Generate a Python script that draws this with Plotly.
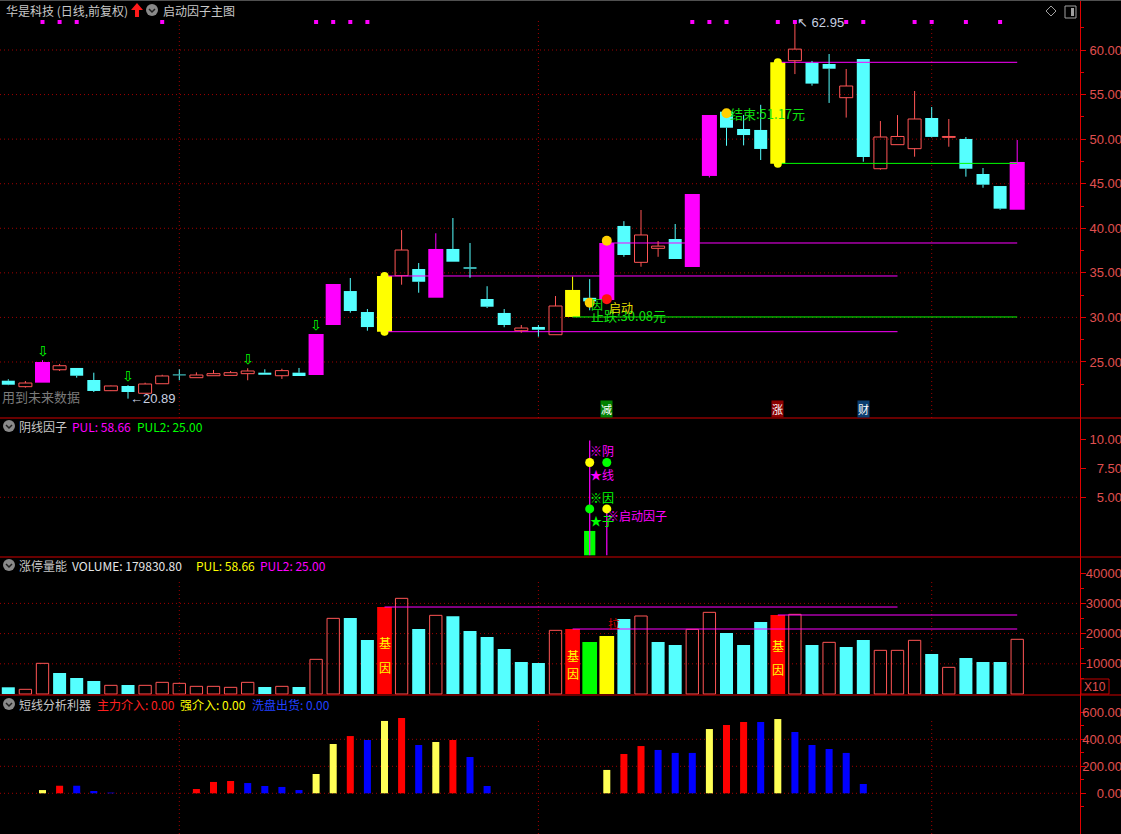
import plotly.graph_objects as go

# ---------------- data ----------------
opens  = [22.90,22.23,22.68,24.13,24.33,22.98,21.78,22.31,21.49,22.56,
          23.60,23.24,23.46,23.50,23.69,23.80,23.46,23.80,23.54,29.15,
          32.96,30.61,28.40,34.68,35.43,32.21,37.68,35.62,32.07,30.50,
          28.51,28.93,28.06,30.05,32.20,31.95,40.26,36.18,37.75,38.80,
          35.66,45.87,53.08,51.14,51.03,47.25,58.80,58.58,58.43,54.65,
          58.99,46.68,49.38,48.93,52.37,50.20,50.02,46.09,44.74,42.08]
highs  = [23.06,22.87,25.20,24.78,24.33,23.80,22.36,22.40,22.68,23.57,
          24.18,23.84,24.10,23.99,24.30,24.18,24.24,24.33,28.14,33.75,
          34.42,30.94,35.00,39.80,36.10,39.44,41.15,38.35,33.50,30.94,
          29.15,29.15,32.40,34.57,34.30,38.60,40.80,42.05,38.57,40.48,
          43.85,52.71,53.08,52.70,53.85,58.90,62.95,58.77,59.55,57.87,
          58.99,52.03,52.70,55.40,53.60,52.26,50.24,46.76,44.74,49.90]
lows   = [22.40,22.12,22.68,23.99,23.24,21.63,21.74,20.89,21.49,22.56,
          22.95,23.24,23.46,23.50,22.95,23.57,23.10,23.43,23.54,29.15,
          30.53,28.51,28.00,33.67,32.77,32.21,36.25,34.45,31.05,28.90,
          28.28,27.84,28.06,30.05,30.80,31.95,36.80,35.69,36.80,36.55,
          35.66,45.70,49.26,49.30,47.66,47.00,57.30,56.00,54.06,52.42,
          47.47,46.57,49.38,48.03,50.20,49.15,45.79,44.55,42.08,42.08]
closes = [22.45,22.64,25.00,24.58,23.46,21.75,22.31,21.63,22.53,23.43,
          23.50,23.54,23.69,23.80,23.99,23.57,24.03,23.43,28.14,33.75,
          30.72,28.92,34.65,37.56,34.00,37.68,36.25,35.47,31.20,29.15,
          28.81,28.62,31.28,33.08,31.80,38.35,37.00,39.25,38.00,36.55,
          43.85,52.71,51.28,50.46,48.90,58.62,60.10,56.23,57.90,55.96,
          48.00,50.24,50.30,52.26,50.25,50.30,46.68,44.89,42.20,47.44]
limit_idx = [2, 18, 19, 25, 35, 40, 41, 59]      # magenta candles
gene_idx = [22, 33, 45]                           # yellow "基因" candles
cap_idx = [22, 45]                                # yellow candles with rounded caps
arrow_idx = [2, 7, 14, 18]                        # green hollow arrows
signal_idx = [2, 3, 4, 9, 18, 19, 20, 21, 40, 41, 42, 45, 46, 49, 50, 53, 54, 56, 58]
month_idx = [10, 31, 54]

volume = [2220, 1550, 10160, 6950, 5300, 4300, 2870, 2980, 2870, 3860,
          3530, 2540, 2540, 2210, 3860, 2320, 2540, 2320, 11480, 25050,
          25170, 17880, 28800, 31680, 21520, 26050, 25720, 20860, 18870, 14900,
          10600, 10260, 21080, 21520, 17220, 19200, 24830, 25830, 17220, 16230,
          21410, 27040, 20200, 16230, 23840, 26160, 26380, 16230, 17110, 15560,
          17880, 14460, 14460, 17770, 13250, 8830, 11920, 10600, 10600, 18110]
vol_green_idx = [34]
vol_yellow_idx = [35]

# price level lines (start index, end index, level)
lvl_start = [22, 22, 33, 35, 45, 45]
lvl_end   = [52, 52, 59, 59, 59, 59]
lvl_value = [34.65, 28.40, 30.05, 38.35, 58.62, 47.28]
# volume level lines
vlvl_start = [22, 45, 33]
vlvl_end   = [52, 59, 59]
vlvl_value = [28800, 26160, 21520]

# 阴线因子 panel
yin_idx = [34, 35]
yin_val = [9.9, 4.05]
yin_bar_idx = [34]
yin_bar_val = [2.1]

# 短线分析利器 panel
zl_idx = [3, 11, 12, 13, 20, 23, 26, 36, 37, 42, 43]
zl_val = [56, 32, 84, 91, 424, 558, 395, 291, 350, 506, 528]
qj_idx = [2, 18, 19, 22, 25, 35, 41, 45]
qj_val = [24, 143, 365, 536, 380, 173, 476, 550]
xp_idx = [4, 5, 6, 14, 15, 16, 17, 21, 24, 27, 28, 38, 39, 40, 44, 46, 47, 48, 49, 50]
xp_val = [56, 17, 5, 76, 54, 47, 24, 395, 358, 269, 54, 321, 299, 299, 528, 454, 358, 328, 299, 69]

price_ticks = [25, 30, 35, 40, 45, 50, 55, 60]
price_minor = [22.5, 27.5, 32.5, 37.5, 42.5, 47.5, 52.5, 57.5, 62.5]
p2_ticks = [5, 7.5, 10]
vol_ticks = [10000, 20000, 30000, 40000]
vol_minor = [5000, 15000, 25000, 35000]
bot_ticks = [0, 200, 400, 600]
bot_minor = [-100, 100, 300, 500]

# ---------------- style / geometry ----------------
W, H = 1121, 834
UP = '#ff5555'; DN = '#55ffff'; MAG = '#ff00ff'; YEL = '#ffff00'; GRN = '#00ff00'
AX = '#e00000'; LBL = '#e05050'; GRID = '#a00000'; TXT = '#c8c8c8'
CJK = 'Noto Sans CJK SC'
X0, DX, AXIS_X = 8.3, 17.1, 1080.0
xrange_ = [(0 - X0) / DX, (AXIS_X - X0) / DX]

def pp(px, py):
    return px / W, 1 - py / H

main_rng = [60 - (418 - 50) / 8.914, 60 - (0 - 50) / 8.914]
p2_rng = [(555.3 - 557) / 11.6, (555.3 - 418) / 11.6]
vol_rng = [(694 - 695) / 0.00302, (694 - 557) / 0.00302]
bot_rng = [(793.3 - 834) / 0.135, (793.3 - 695) / 0.135]
dom_main = [1 - 418 / H, 1]
dom_p2 = [1 - 557 / H, 1 - 418 / H]
dom_vol = [1 - 695 / H, 1 - 557 / H]
dom_bot = [0, 1 - 695 / H]

n = len(closes)
fig = go.Figure()

# ---- candle classification ----
def ctype(i):
    if i in limit_idx:
        return 'mag'
    if i in gene_idx:
        return 'yel'
    return 'up' if closes[i] >= opens[i] else 'dn'

col = {'mag': MAG, 'yel': YEL, 'up': UP, 'dn': DN}

# level lines (main)
lvl_colors = [MAG, MAG, GRN, MAG, MAG, GRN]
for s, e, v, c in zip(lvl_start, lvl_end, lvl_value, lvl_colors):
    fig.add_trace(go.Scatter(x=[s, e], y=[v, v], mode='lines', line=dict(color=c, width=1),
                             xaxis='x', yaxis='y', hoverinfo='skip'))

# wicks
for t in ['up', 'dn', 'mag', 'yel']:
    xs, ys = [], []
    for i in range(n):
        if ctype(i) != t:
            continue
        top, bot = max(opens[i], closes[i]), min(opens[i], closes[i])
        if highs[i] > top:
            xs += [i, i, None]; ys += [top, highs[i], None]
        if lows[i] < bot:
            xs += [i, i, None]; ys += [lows[i], bot, None]
    fig.add_trace(go.Scatter(x=xs, y=ys, mode='lines', line=dict(color=col[t], width=1),
                             yaxis='y', hoverinfo='skip'))

# rounded caps of the yellow candles
cap_x, cap_y = [], []
for i in cap_idx:
    cap_x += [i, i]
    cap_y += [max(opens[i], closes[i]), min(opens[i], closes[i])]
fig.add_trace(go.Scatter(x=cap_x, y=cap_y, mode='markers', marker=dict(size=8, color=YEL),
                         yaxis='y', hoverinfo='skip'))

# bodies
for t in ['up', 'dn', 'mag', 'yel']:
    idx = [i for i in range(n) if ctype(i) == t]
    base = [min(opens[i], closes[i]) for i in idx]
    hgt = [max(abs(closes[i] - opens[i]), 0.09) for i in idx]
    w = 0.76 if t in ('up', 'dn') else 0.88
    if t == 'up':
        mk = dict(color='rgba(0,0,0,0)', line=dict(color=UP, width=1))
    else:
        mk = dict(color=col[t], line=dict(width=0))
    fig.add_trace(go.Bar(x=idx, y=hgt, base=base, width=w, marker=mk, yaxis='y', hoverinfo='skip'))

# top signal squares
fig.add_trace(go.Scatter(x=signal_idx, y=[63.14] * len(signal_idx), mode='markers',
                         marker=dict(symbol='square', size=4, color=MAG), yaxis='y', hoverinfo='skip'))

# dots on main
fig.add_trace(go.Scatter(x=[42, 34, 35], y=[52.9, 31.65, 38.6], mode='markers',
                         marker=dict(size=10, color='#ffd000'), yaxis='y', hoverinfo='skip'))
fig.add_trace(go.Scatter(x=[35], y=[32.05], mode='markers',
                         marker=dict(size=10, color='#ff1010'), yaxis='y', hoverinfo='skip'))

# ---- 阴线因子 panel ----
fig.add_trace(go.Bar(x=yin_bar_idx, y=yin_bar_val, width=0.66, marker=dict(color=GRN, line=dict(width=0)),
                     yaxis='y2', hoverinfo='skip'))
xs, ys = [], []
for i, v in zip(yin_idx, yin_val):
    xs += [i, i, None]; ys += [0, v, None]
fig.add_trace(go.Scatter(x=xs, y=ys, mode='lines', line=dict(color=MAG, width=1.2), yaxis='y2', hoverinfo='skip'))
fig.add_trace(go.Scatter(x=[34, 35], y=[8, 4], mode='markers', marker=dict(size=9, color=YEL),
                         yaxis='y2', hoverinfo='skip'))
fig.add_trace(go.Scatter(x=[35, 34], y=[8, 4], mode='markers', marker=dict(size=9, color=GRN),
                         yaxis='y2', hoverinfo='skip'))

# ---- volume panel ----
vtype = []
for i in range(n):
    if i in gene_idx:
        vtype.append('gene')
    elif i in vol_green_idx:
        vtype.append('green')
    elif i in vol_yellow_idx:
        vtype.append('yellow')
    else:
        prev = closes[i - 1] if i > 0 else opens[i]
        vtype.append('up' if closes[i] >= prev else 'dn')
vstyle = {
    'up': (0.72, dict(color='rgba(0,0,0,0)', line=dict(color=UP, width=1))),
    'dn': (0.76, dict(color=DN, line=dict(width=0))),
    'gene': (0.86, dict(color='#ff0000', line=dict(width=0))),
    'green': (0.86, dict(color=GRN, line=dict(width=0))),
    'yellow': (0.86, dict(color=YEL, line=dict(width=0))),
}
for s, e, v in zip(vlvl_start, vlvl_end, vlvl_value):
    fig.add_trace(go.Scatter(x=[s, e], y=[v, v], mode='lines', line=dict(color=MAG, width=1),
                             yaxis='y3', hoverinfo='skip'))
for t, (w, mk) in vstyle.items():
    idx = [i for i in range(n) if vtype[i] == t]
    fig.add_trace(go.Bar(x=idx, y=[volume[i] for i in idx], width=w, marker=mk, yaxis='y3', hoverinfo='skip'))

# ---- bottom panel ----
for idx, vals, c in [(zl_idx, zl_val, '#ff0000'), (qj_idx, qj_val, '#ffff55'), (xp_idx, xp_val, '#0000ff')]:
    fig.add_trace(go.Bar(x=idx, y=vals, width=0.41, marker=dict(color=c, line=dict(width=0)),
                         yaxis='y4', hoverinfo='skip'))

# dummy traces for label axes
for k in range(5, 9):
    fig.add_trace(go.Scatter(x=[None], y=[None], yaxis=f'y{k}', hoverinfo='skip'))

# ---------------- axes ----------------
def base_axis(dom, rng, tv, minor_tv):
    d = dict(domain=dom, range=rng, anchor='x', side='right', showline=True, linecolor=AX, linewidth=1,
             ticks='outside', ticklen=5, tickcolor=AX, tickwidth=1, tickvals=tv, showticklabels=False,
             showgrid=False, zeroline=False, fixedrange=True)
    if minor_tv:
        d['minor'] = dict(ticks='outside', ticklen=3, tickcolor=AX, tickvals=minor_tv, showgrid=False)
    return d

def label_axis(over, rng, tv, fmt):
    return dict(overlaying=over, anchor='free', position=1, side='right', range=rng, tickvals=tv,
                ticktext=[fmt(v) for v in tv], ticklabelposition='inside', ticks='', showline=False,
                showgrid=False, zeroline=False, ticklabelstandoff=-4, fixedrange=True,
                tickfont=dict(color=LBL, size=13, family='Liberation Sans'))

layout = dict(
    width=W, height=H, margin=dict(l=0, r=0, t=0, b=0), paper_bgcolor='black', plot_bgcolor='black',
    showlegend=False, barmode='overlay', hovermode=False,
    xaxis=dict(domain=[0, AXIS_X / W], range=xrange_, visible=False, fixedrange=True),
    yaxis=base_axis(dom_main, main_rng, price_ticks, price_minor),
    yaxis2=base_axis(dom_p2, p2_rng, p2_ticks, None),
    yaxis3=base_axis(dom_vol, vol_rng, vol_ticks, vol_minor),
    yaxis4=base_axis(dom_bot, bot_rng, bot_ticks, bot_minor),
    yaxis5=label_axis('y', main_rng, price_ticks, lambda v: f'{v:.2f}'),
    yaxis6=label_axis('y2', p2_rng, p2_ticks, lambda v: f'{v:.2f}'),
    yaxis7=label_axis('y3', vol_rng, vol_ticks, lambda v: f'{v:d}'),
    yaxis8=label_axis('y4', bot_rng, bot_ticks, lambda v: f'{v:.2f}'),
)
fig.update_layout(**layout)

# ---------------- shapes ----------------
shapes = []
DOT = '1px,3px'
for ax, vals in [('y', price_ticks), ('y2', [5]), ('y3', [10000, 20000, 30000]), ('y4', [0, 200, 400])]:
    for v in vals:
        shapes.append(dict(type='line', xref='x domain', x0=0, x1=1, yref=ax, y0=v, y1=v,
                           line=dict(color=GRID, width=1, dash=DOT), layer='below'))
for m in month_idx:
    for y0, y1 in [(20, 418), (580, 695), (718, 834)]:
        shapes.append(dict(type='line', xref='x', x0=m, x1=m, yref='paper', y0=1 - y1 / H, y1=1 - y0 / H,
                           line=dict(color=GRID, width=1, dash=DOT), layer='below'))
# panel separators
for py in [418, 557, 695]:
    shapes.append(dict(type='line', xref='paper', x0=0, x1=1, yref='paper', y0=1 - py / H, y1=1 - py / H,
                       line=dict(color='#d00000', width=1)))
shapes.append(dict(type='line', xref='paper', x0=0, x1=1, yref='paper', y0=1 - 0.5 / H, y1=1 - 0.5 / H,
                   line=dict(color='#505050', width=1)))
# header icons: gray circles with chevron
for cx, cy in [(152, 10), (9, 426), (9, 565), (9, 704)]:
    shapes.append(dict(type='circle', xref='paper', yref='paper', x0=(cx - 6) / W, x1=(cx + 6) / W,
                       y0=1 - (cy + 6) / H, y1=1 - (cy - 6) / H, fillcolor='#8a8a8a', line=dict(width=0)))
    a = pp(cx - 3, cy - 1); b = pp(cx, cy + 2); c = pp(cx + 3, cy - 1)
    shapes.append(dict(type='path', xref='paper', yref='paper',
                       path=f'M{a[0]},{a[1]} L{b[0]},{b[1]} L{c[0]},{c[1]}', line=dict(color='#202020', width=1.5)))
# red up arrow in header
pts = [(137, 3), (131, 10), (135, 10), (135, 17), (139, 17), (139, 10), (143, 10)]
path = 'M' + ' L'.join(f'{pp(x, y)[0]},{pp(x, y)[1]}' for x, y in pts) + ' Z'
shapes.append(dict(type='path', xref='paper', yref='paper', path=path, fillcolor='#ff1a1a', line=dict(width=0)))
# diamond + box icons top right
pts = [(1051, 6), (1056, 11), (1051, 16), (1046, 11)]
path = 'M' + ' L'.join(f'{pp(x, y)[0]},{pp(x, y)[1]}' for x, y in pts) + ' Z'
shapes.append(dict(type='path', xref='paper', yref='paper', path=path, line=dict(color='#a0a0a0', width=1)))
shapes.append(dict(type='rect', xref='paper', yref='paper', x0=1065 / W, x1=1076 / W, y0=1 - 18 / H, y1=1 - 6 / H,
                   line=dict(color='#a0a0a0', width=1)))
shapes.append(dict(type='rect', xref='paper', yref='paper', x0=1071 / W, x1=1074 / W, y0=1 - 16 / H, y1=1 - 8 / H,
                   fillcolor='#a0a0a0', line=dict(width=0)))
# X10 box
shapes.append(dict(type='rect', xref='paper', yref='paper', x0=1081 / W, x1=1109 / W, y0=1 - 694 / H, y1=1 - 679 / H,
                   line=dict(color='#c00000', width=1)))
fig.update_layout(shapes=shapes)

# ---------------- annotations ----------------
ann = []
def ptxt(text, px, py, color, size=12, anchor='left', family=CJK):
    x, y = pp(px, py)
    ann.append(dict(text=text, x=x, y=y, xref='paper', yref='paper', xanchor=anchor, yanchor='middle',
                    showarrow=False, font=dict(color=color, size=size, family=family)))

ptxt('华是科技 (日线,前复权)', 4, 10, TXT)
ptxt('启动因子主图', 161, 10, TXT)
ptxt('阴线因子', 17, 426, TXT)
ptxt('PUL: 58.66', 70, 426, MAG)
ptxt('PUL2: 25.00', 135, 426, GRN)
ptxt('涨停量能', 17, 565, TXT)
ptxt('VOLUME: 179830.80', 70, 565, '#e6e6e6')
ptxt('PUL: 58.66', 194, 565, YEL)
ptxt('PUL2: 25.00', 258, 565, MAG)
ptxt('短线分析利器', 17, 704, TXT)
ptxt('主力介入: 0.00', 95, 704, '#ff2020')
ptxt('强介入: 0.00', 178, 704, YEL)
ptxt('洗盘出货: 0.00', 250, 704, '#2040ff')
ptxt('用到未来数据', 0, 397, '#7a7a7a', 13)
ptxt('X10', 1095, 687, LBL, 12, 'center', 'Liberation Sans')

def dtxt(text, x, y, ax, color, size=12, anchor='left', xs=0, ys=0, family=CJK):
    ann.append(dict(text=text, x=x, y=y, xref='x', yref=ax, xanchor=anchor, yanchor='middle', showarrow=False,
                    xshift=xs, yshift=ys, font=dict(color=color, size=size, family=family)))

# green hollow arrows
for i in arrow_idx:
    dtxt('⇩', i, highs[i], 'y', GRN, 14, 'center', 0, 9, family='DejaVu Sans')
dtxt('←20.89', 7, lows[7], 'y', '#c8d0e0', 13, 'left', 0, 0, family='Liberation Sans')
dtxt('↖ 62.95', 46, highs[46], 'y', '#c8d0e0', 13, 'left', 0, 1, family='Liberation Sans')
dtxt('结束:51.17元', 42, 52.87, 'y', '#10e010', 13, 'left', 1)
dtxt('止跌:30.08元', 34, 30.27, 'y', '#10e010', 13, 'left', -1)
dtxt('因', 34, 31.4, 'y', '#10e010', 12, 'left', -1)
dtxt('启动', 35, 31.1, 'y', '#e8e000', 12, 'left', 0)
# bottom labels
for i, t, bg in [(35, '减', '#008000'), (45, '涨', '#8b0000'), (50, '财', '#0a3d70')]:
    ann.append(dict(text=t, x=i, y=0.022, xref='x', yref='y domain', xanchor='center', yanchor='middle',
                    showarrow=False, bgcolor=bg, borderpad=0, font=dict(color='white', size=11, family=CJK)))
# panel 2 texts
dtxt('※阴', 34, 9.05, 'y2', MAG, 12, 'left', -2)
dtxt('★线', 34, 6.98, 'y2', MAG, 12, 'left', -2)
dtxt('※因', 34, 5.0, 'y2', GRN, 12, 'left', -2)
dtxt('★子', 34, 3.0, 'y2', GRN, 12, 'left', -2)
dtxt('※启动因子', 35, 3.45, 'y2', MAG, 12, 'left', -2)
# volume texts
for i, y1, y2 in [(22, 17200, 8940), (33, 12900, 6950), (45, 16200, 7950)]:
    dtxt('基', i, y1, 'y3', YEL, 12, 'center')
    dtxt('因', i, y2, 'y3', YEL, 12, 'center')
dtxt('拉', 35, 23300, 'y3', '#d00000', 12, 'center', 7)

fig.update_layout(annotations=ann)
fig.write_html('out.html', config={'displayModeBar': False, 'staticPlot': True}, post_script=(
    "document.body.style.margin='0';document.body.style.padding='0';"
    "document.body.style.background='black';document.body.style.overflow='hidden';"
    "document.documentElement.style.background='black';"))
